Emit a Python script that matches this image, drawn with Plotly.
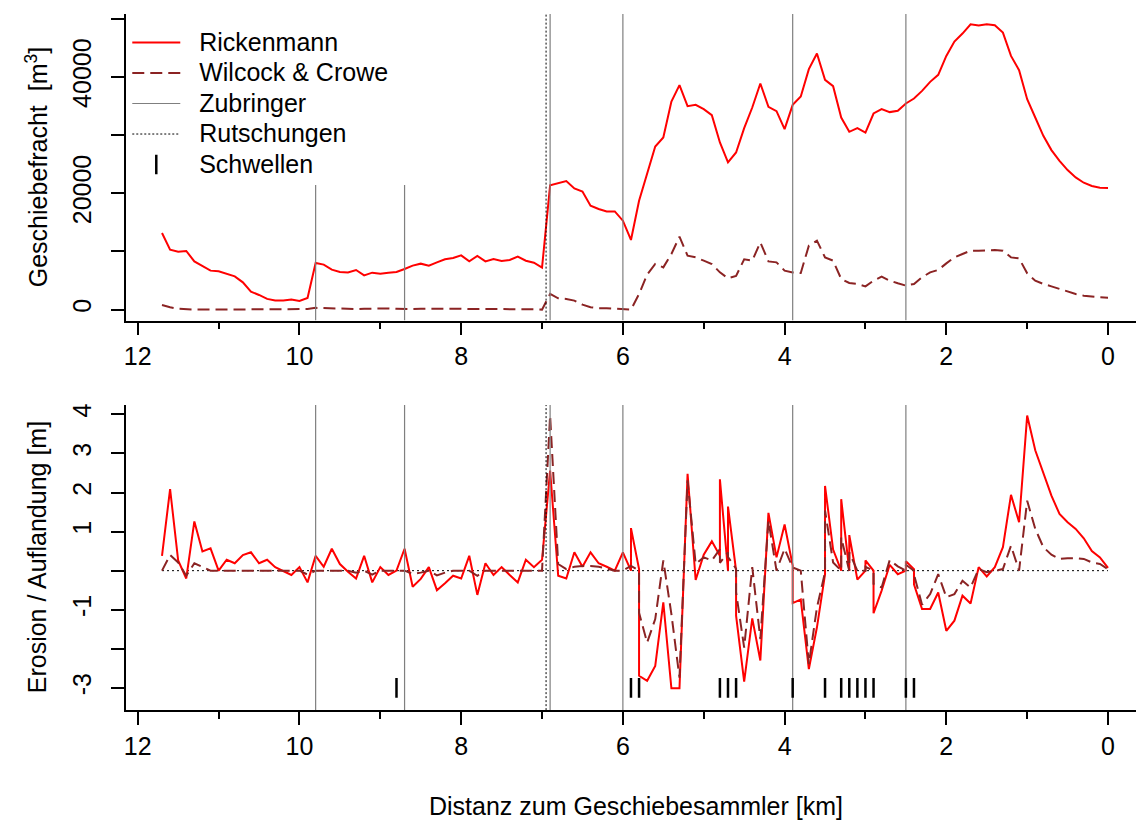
import plotly.graph_objects as go

# ---------------- data ----------------
km_top = [11.7, 11.6, 11.5, 11.4, 11.3, 11.2, 11.1, 11.0, 10.9, 10.8,
          10.7, 10.6, 10.5, 10.4, 10.3, 10.2, 10.1, 10.0, 9.9, 9.8,
          9.7, 9.6, 9.5, 9.4, 9.3, 9.2, 9.1, 9.0, 8.9, 8.8,
          8.7, 8.6, 8.5, 8.4, 8.3, 8.2, 8.1, 8.0, 7.9, 7.8,
          7.7, 7.6, 7.5, 7.4, 7.3, 7.2, 7.1, 7.0, 6.9, 6.8,
          6.7, 6.6, 6.5, 6.4, 6.3, 6.2, 6.1, 6.0, 5.9, 5.8,
          5.7, 5.6, 5.5, 5.4, 5.3, 5.2, 5.1, 5.0, 4.9, 4.8,
          4.7, 4.6, 4.5, 4.4, 4.3, 4.2, 4.1, 4.0, 3.9, 3.8,
          3.7, 3.6, 3.5, 3.4, 3.3, 3.2, 3.1, 3.0, 2.9, 2.8,
          2.7, 2.6, 2.5, 2.4, 2.3, 2.2, 2.1, 2.0, 1.9, 1.8,
          1.7, 1.6, 1.5, 1.4, 1.3, 1.2, 1.1, 1.0, 0.9, 0.8,
          0.7, 0.6, 0.5, 0.4, 0.3, 0.2, 0.1, 0.0]

rickenmann_fracht = [13170, 10300, 9960, 10080, 8290, 7500, 6700, 6580, 6130, 5720,
                     4690, 3090, 2520, 1840, 1550, 1550, 1720, 1490, 2010, 8020,
                     7730, 6870, 6470, 6400, 6810, 5890, 6350, 6180, 6350, 6470,
                     6990, 7560, 7900, 7560, 8120, 8640, 8880, 9320, 8290, 9220,
                     8290, 8700, 8360, 8530, 9100, 8410, 8070, 7210, 21350, 21700,
                     22090, 20830, 20310, 17860, 17290, 16880, 16880, 15280, 11970, 18720,
                     23300, 28040, 29590, 35770, 38580, 34970, 35200, 34460, 33430, 28730,
                     25300, 27010, 31190, 34740, 38860, 34860, 34120, 31030, 35200, 36630,
                     41330, 44010, 39490, 38410, 33020, 30560, 31190, 30440, 33710, 34460,
                     33950, 34170, 35430, 36290, 37600, 39150, 40350, 43610, 46070, 47450,
                     49050, 48820, 49050, 48880, 47610, 43610, 41160, 36170, 33020, 29880,
                     27420, 25580, 23990, 22720, 21810, 21240, 20950, 20900]

wilcock_fracht = [800, 400, 150, 50, 0, 0, 0, 0, 0, 0,
                  0, 0, 0, 0, 0, 0, 0, 0, 100, 300,
                  250, 150, 100, 150, 100, 150, 200, 150, 200, 150,
                  100, 100, 150, 200, 150, 150, 200, 150, 100, 150,
                  100, 100, 100, 100, 150, 100, 50, 0, 2690, 1950,
                  1830, 1550, 860, 400, 230, 230, 170, 60, 0, 2690,
                  6010, 7840, 7260, 9560, 12530, 9270, 8980, 8410, 7840, 6410,
                  5380, 5780, 8640, 8410, 11560, 8290, 8120, 6700, 6400, 6300,
                  10990, 11850, 8980, 8410, 5270, 4580, 4410, 4000, 4980, 5670,
                  4980, 4520, 4120, 4410, 5550, 6410, 6810, 7950, 8980, 9560,
                  10130, 10130, 10250, 10250, 10130, 8980, 8810, 6240, 4980, 4410,
                  4000, 3550, 3140, 2690, 2400, 2230, 2110, 2060]

km_bot = [11.7, 11.6, 11.5, 11.4, 11.3, 11.2, 11.1, 11.0, 10.9, 10.8,
          10.7, 10.6, 10.5, 10.4, 10.3, 10.2, 10.1, 10.0, 9.9, 9.8,
          9.7, 9.6, 9.5, 9.4, 9.3, 9.2, 9.1, 9.0, 8.9, 8.8,
          8.7, 8.6, 8.5, 8.4, 8.3, 8.2, 8.1, 8.0, 7.9, 7.8,
          7.7, 7.6, 7.5, 7.4, 7.3, 7.2, 7.1, 7.0, 6.9, 6.8,
          6.7, 6.6, 6.5, 6.4, 6.3, 6.2, 6.1, 6.0,
          5.9, 5.9, 5.8, 5.8,
          5.7, 5.6, 5.5, 5.4, 5.3, 5.2, 5.1, 5.0, 4.9,
          4.8, 4.8, 4.7, 4.7, 4.6, 4.6,
          4.5, 4.4, 4.3, 4.2, 4.1, 4.0,
          3.9, 3.9,
          3.8, 3.7, 3.6,
          3.5, 3.5,
          3.4,
          3.3, 3.3, 3.2, 3.2,
          3.1,
          3.0, 3.0, 2.9, 2.9,
          2.8, 2.7, 2.6,
          2.5, 2.5, 2.4, 2.4,
          2.3, 2.2, 2.1, 2.0, 1.9, 1.8, 1.7, 1.6, 1.5, 1.4,
          1.3, 1.2, 1.1, 1.0, 0.9, 0.8, 0.7, 0.6, 0.5, 0.4,
          0.3, 0.2, 0.1, 0.0]

rickenmann_dz = [0.38, 2.09, 0.26, -0.20, 1.26, 0.49, 0.57, 0.00, 0.28, 0.19,
                 0.40, 0.47, 0.19, 0.28, 0.09, -0.02, -0.11, 0.09, -0.30, 0.38,
                 0.10, 0.56, 0.17, -0.03, -0.20, 0.38, -0.30, 0.09, -0.11, 0.00,
                 0.56, -0.41, -0.21, 0.09, -0.50, -0.32, -0.13, -0.20, 0.38, -0.62,
                 0.19, -0.11, 0.09, -0.11, -0.30, 0.28, 0.09, 0.28, 2.56, -0.13,
                 -0.20, 0.47, 0.10, 0.47, 0.19, 0.10, 0.00, 0.47,
                 0.00, 1.09, 0.04, -2.69,
                 -2.82, -2.44, -0.81, -3.01, -3.01, 2.48, -0.24, 0.41, 0.75,
                 0.38, 2.34, 0.00, 1.64, 0.00, -1.15,
                 -2.84, -1.22, -2.30, 1.48, 0.34, 1.18,
                 0.13, -0.83,
                 -0.74, -2.52, -1.45,
                 -0.09, 2.17,
                 0.54,
                 0.00, 1.83, 0.00, 0.91,
                 -0.23,
                 0.00, 0.26, 0.00, -1.09,
                 -0.51, 0.15, -0.09,
                 0.00, 0.24, 0.04, -0.35,
                 -0.98, -0.98, -0.56, -1.54, -1.28, -0.64, -0.84, 0.09, -0.15, 0.09,
                 0.60, 1.94, 1.24, 3.97, 3.08, 2.48, 1.92, 1.45, 1.24, 1.07,
                 0.83, 0.50, 0.34, 0.07]

wilcock_dz = [0.00, 0.40, 0.21, -0.13, 0.19, 0.09, 0.00, 0.00, 0.00, 0.00,
              0.00, 0.00, 0.00, 0.00, 0.00, 0.00, 0.00, 0.00, -0.10, 0.00,
              0.00, 0.00, 0.00, 0.00, -0.05, 0.00, -0.10, 0.00, 0.00, 0.00,
              0.00, -0.08, -0.05, 0.00, -0.12, -0.05, 0.00, 0.00, 0.00, -0.13,
              0.00, 0.00, 0.00, 0.00, 0.00, 0.00, 0.00, 0.00, 3.97, 0.17,
              0.04, 0.10, 0.12, 0.12, 0.10, 0.05, 0.00, 0.00,
              0.10, 0.12, 0.00, -1.08,
              -1.84, -1.24, 0.26, -1.11, -2.74, 2.31, 0.17, 0.34, 0.26,
              0.55, 0.20, 0.47, 0.35, 0.05, -0.55,
              -1.97, 0.09, -1.75, 1.28, 0.00, 0.56,
              0.11, 0.08,
              0.00, -2.39, -0.94,
              -0.04, 1.54,
              0.21,
              0.00, 0.85, 0.00, 0.47,
              0.00,
              0.00, 0.10, 0.00, -0.34,
              -0.43, 0.27, 0.11,
              0.00, 0.15, 0.00, -0.10,
              -0.87, -0.60, -0.09, -0.68, -0.60, -0.26, -0.43, 0.04, -0.04, 0.00,
              0.04, 0.64, 0.00, 1.79, 1.07, 0.60, 0.41, 0.30, 0.32, 0.32,
              0.30, 0.21, 0.17, 0.04]

zubringer_km = [9.8, 8.7, 6.9, 6.0, 3.9, 2.5]
rutschungen_km = [6.95]
schwellen_km = [8.8, 5.9, 5.8, 4.8, 4.7, 4.6, 3.9, 3.5, 3.3, 3.2, 3.1, 3.0, 2.9, 2.5, 2.4]
schwellen_level = -3

x_major_ticks = [12, 10, 8, 6, 4, 2, 0]
x_minor_ticks = [11, 9, 7, 5, 3, 1]
top_ticks = [0, 10000, 20000, 30000, 40000, 50000]
top_ticklabels = ["0", "", "20000", "", "40000", ""]
bot_ticks = [-3, -2, -1, 0, 1, 2, 3, 4]
bot_ticklabels = ["-3", "", "-1", "", "1", "2", "3", "4"]

legend_names = ["Rickenmann", "Wilcock & Crowe", "Zubringer", "Rutschungen", "Schwellen"]

# ---------------- layout helpers ----------------
W, H = 1136, 821
FONT = "Liberation Sans, Arial, sans-serif"
FS = 25
LEG_FS = 21.15  # controls legend row spacing (~30.5 px)


def fx(p):
    return p / W


def fy(p):
    return 1 - p / H


def leg(name, pad=""):
    return '<span style="font-size:%dpx">\u00a0\u00a0%s%s</span>' % (FS, name, pad)


x_range = [12.148, -0.346]
top_range = [-1890, 50815]
bot_range = [-3.57, 4.24]

RED = "#FF0000"
DARKRED = "#8B2323"
GREY = "#7F7F7F"


def vlines(xs, lo, hi):
    xx, yy = [], []
    for k in xs:
        xx += [k, k, None]
        yy += [lo, hi, None]
    return xx, yy


fig = go.Figure()

panels = [("x", "y", km_top, rickenmann_fracht, wilcock_fracht, top_range, True),
          ("x2", "y2", km_bot, rickenmann_dz, wilcock_dz, bot_range, False)]

for xa, ya, kms, rk, wc, yr, first in panels:
    if not first:
        fig.add_trace(go.Scatter(x=kms, y=[0] * len(kms), mode="lines",
                                 line=dict(color="black", width=1, dash="2px,3px"),
                                 showlegend=False, hoverinfo="skip", xaxis=xa, yaxis=ya))
    fig.add_trace(go.Scatter(x=kms, y=rk, mode="lines", name=leg(legend_names[0]),
                             line=dict(color=RED, width=2), legendrank=1,
                             showlegend=first, xaxis=xa, yaxis=ya))
    fig.add_trace(go.Scatter(x=kms, y=wc, mode="lines",
                             name=leg(legend_names[1], "\u00a0\u00a0\u00a0"),
                             line=dict(color=DARKRED, width=2, dash="12px,6px"), legendrank=2,
                             showlegend=first, xaxis=xa, yaxis=ya))
    zx, zy = vlines(zubringer_km, yr[0], yr[1])
    fig.add_trace(go.Scatter(x=zx, y=zy, mode="lines", name=leg(legend_names[2]),
                             line=dict(color=GREY, width=1.2), legendrank=3,
                             showlegend=first, xaxis=xa, yaxis=ya))
    rx, ry = vlines(rutschungen_km, yr[0], yr[1])
    fig.add_trace(go.Scatter(x=rx, y=ry, mode="lines", name=leg(legend_names[3]),
                             line=dict(color="black", width=1, dash="2px,2px"), legendrank=4,
                             showlegend=first, xaxis=xa, yaxis=ya))

fig.add_trace(go.Scatter(x=schwellen_km, y=[schwellen_level] * len(schwellen_km), mode="markers",
                         name=leg(legend_names[4]), legendrank=5,
                         marker=dict(symbol="line-ns", size=14, color="black",
                                     line=dict(color="black", width=2.5)),
                         xaxis="x2", yaxis="y2"))

axis_common = dict(showline=True, linecolor="black", linewidth=1.5, ticks="outside",
                   tickcolor="black", tickwidth=1.5, ticklen=13, showgrid=False, zeroline=False,
                   tickfont=dict(family=FONT, size=FS, color="black"))

xaxis_common = dict(axis_common, range=x_range, tickmode="array", tickvals=x_major_ticks,
                    ticktext=[str(v) for v in x_major_ticks],
                    domain=[fx(124), 1.0],
                    minor=dict(tickmode="array", tickvals=x_minor_ticks, ticks="outside",
                               ticklen=7, tickwidth=1.5, tickcolor="black"))

fig.update_layout(
    width=W, height=H,
    margin=dict(l=0, r=0, t=0, b=0),
    paper_bgcolor="white", plot_bgcolor="white",
    font=dict(family=FONT, size=FS, color="black"),
    xaxis=dict(xaxis_common, anchor="y"),
    xaxis2=dict(xaxis_common, anchor="y2"),
    yaxis=dict(axis_common, domain=[fy(320), fy(13)], range=top_range, tickmode="array",
               tickvals=top_ticks, ticktext=top_ticklabels, tickangle=-90, anchor="x",
               ticklabelstandoff=10),
    yaxis2=dict(axis_common, domain=[fy(710), fy(404.5)], range=bot_range, tickmode="array",
                tickvals=bot_ticks, ticktext=bot_ticklabels, tickangle=-90, anchor="x2",
                ticklabelstandoff=10),
    legend=dict(x=fx(125.5), y=fy(13.5), xanchor="left", yanchor="top", bgcolor="white",
                borderwidth=0, font=dict(family=FONT, size=LEG_FS, color="black"),
                title=dict(text="\u00a0", font=dict(family=FONT, size=6)),
                tracegroupgap=0, itemwidth=48),
    showlegend=True,
    annotations=[
        dict(text="Geschiebefracht\u00a0\u00a0[m<sup>3</sup>]", x=fx(35), y=fy(166.5), xref="paper",
             yref="paper", textangle=-90, showarrow=False, xanchor="center", yanchor="middle",
             font=dict(family=FONT, size=FS, color="black")),
        dict(text="Erosion / Auflandung [m]", x=fx(35), y=fy(557), xref="paper",
             yref="paper", textangle=-90, showarrow=False, xanchor="center", yanchor="middle",
             font=dict(family=FONT, size=FS, color="black")),
        dict(text="Distanz zum Geschiebesammler [km]", x=fx(635), y=fy(806), xref="paper",
             yref="paper", showarrow=False, xanchor="center", yanchor="middle",
             font=dict(family=FONT, size=FS, color="black")),
    ],
)

fig.write_html("out.html", config={"displayModeBar": False},
               post_script="document.body.style.margin='0';document.body.style.overflow='hidden';")
